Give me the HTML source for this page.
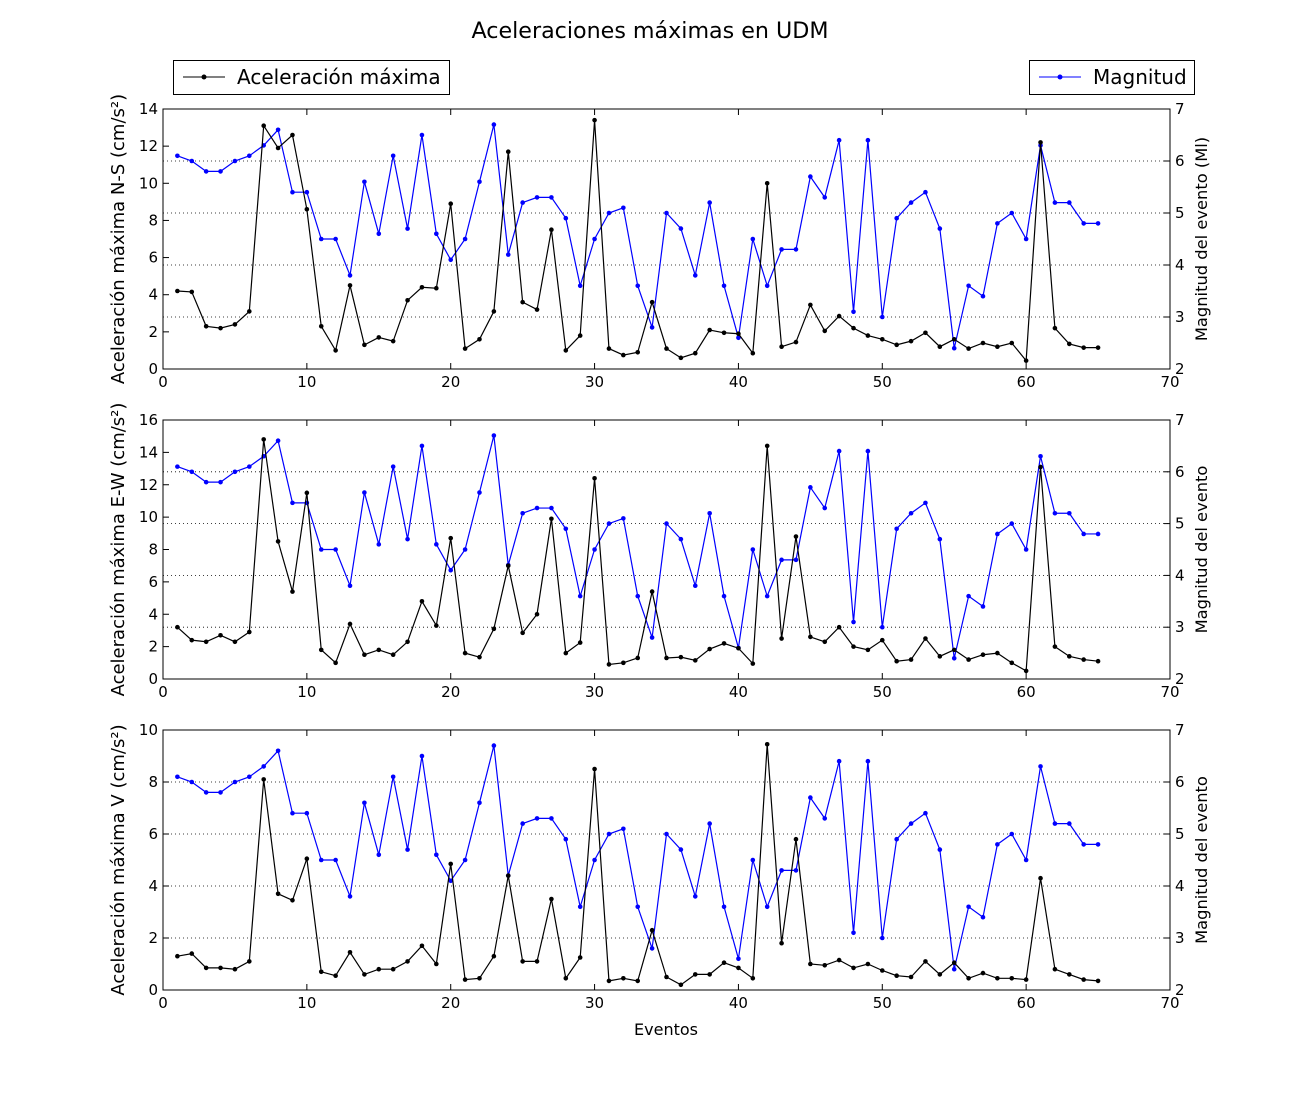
<!DOCTYPE html>
<html><head><meta charset="utf-8"><style>
body{margin:0;background:#fff}
svg{font-family:"DejaVu Sans","Liberation Sans",sans-serif}
</style></head><body>
<svg id="c" width="1300" height="1100" xmlns="http://www.w3.org/2000/svg">
<rect width="1300" height="1100" fill="#fff"/>
<text x="650" y="38" text-anchor="middle" font-size="22.2">Aceleraciones máximas en UDM</text>
<g>
<rect x="173.5" y="60.5" width="276" height="34" fill="#fff" stroke="#000"/>
<line x1="183" y1="77" x2="225" y2="77" stroke="#000"/><circle cx="204" cy="77" r="2.5" fill="#000"/>
<text x="237" y="84" font-size="20">Aceleración máxima</text></g>
<g>
<rect x="1029.5" y="60.5" width="165" height="34" fill="#fff" stroke="#000"/>
<line x1="1039" y1="77" x2="1081" y2="77" stroke="#00f"/><circle cx="1060" cy="77" r="2.5" fill="#00f"/>
<text x="1093" y="84" font-size="20">Magnitud</text></g>
<text x="666" y="1035" text-anchor="middle" font-size="16">Eventos</text>
</svg>
<script>
const xTicks=[0,10,20,30,40,50,60,70];
const magnitude=[6.1,6.0,5.8,5.8,6.0,6.1,6.3,6.6,5.4,5.4,4.5,4.5,3.8,5.6,4.6,6.1,4.7,6.5,4.6,4.1,4.5,5.6,6.7,4.2,5.2,5.3,5.3,4.9,3.6,4.5,5.0,5.1,3.6,2.8,5.0,4.7,3.8,5.2,3.6,2.6,4.5,3.6,4.3,4.3,5.7,5.3,6.4,3.1,6.4,3.0,4.9,5.2,5.4,4.7,2.4,3.6,3.4,4.8,5.0,4.5,6.3,5.2,5.2,4.8,4.8];
const accelNS=[4.2,4.15,2.3,2.2,2.4,3.1,13.1,11.9,12.6,8.6,2.3,1.0,4.5,1.3,1.7,1.5,3.7,4.4,4.35,8.9,1.1,1.6,3.1,11.7,3.6,3.2,7.5,1.0,1.8,13.4,1.1,0.75,0.9,3.6,1.1,0.6,0.85,2.1,1.95,1.9,0.85,10.0,1.2,1.45,3.45,2.05,2.85,2.2,1.8,1.6,1.3,1.5,1.95,1.2,1.6,1.1,1.4,1.2,1.4,0.45,12.2,2.2,1.35,1.15,1.15];
const accelEW=[3.2,2.4,2.3,2.7,2.3,2.9,14.8,8.5,5.4,11.5,1.8,1.0,3.4,1.5,1.8,1.5,2.3,4.8,3.3,8.7,1.6,1.35,3.1,7.0,2.85,4.0,9.9,1.6,2.25,12.4,0.9,1.0,1.3,5.4,1.3,1.35,1.15,1.85,2.2,1.9,0.95,14.4,2.5,8.8,2.6,2.3,3.2,2.0,1.8,2.4,1.1,1.2,2.5,1.4,1.8,1.2,1.5,1.6,1.0,0.5,13.1,2.0,1.4,1.2,1.1];
const accelV=[1.3,1.4,0.85,0.85,0.8,1.1,8.1,3.7,3.45,5.05,0.7,0.55,1.45,0.6,0.8,0.8,1.1,1.7,1.0,4.85,0.4,0.45,1.3,4.4,1.1,1.1,3.5,0.45,1.25,8.5,0.35,0.45,0.35,2.3,0.5,0.2,0.6,0.6,1.05,0.85,0.45,9.45,1.8,5.8,1.0,0.95,1.15,0.85,1.0,0.75,0.55,0.5,1.1,0.6,1.05,0.45,0.65,0.45,0.45,0.4,4.3,0.8,0.6,0.4,0.35];
const nsTicks=[0,2,4,6,8,10,12,14];
const ewTicks=[0,2,4,6,8,10,12,14,16];
const vTicks=[0,2,4,6,8,10];
const magTicks=[2,3,4,5,6,7];
const panels=[
 {name:'ns',top:109,bot:369,max:14,ticks:nsTicks,data:accelNS,yl:'Aceleración máxima N-S (cm/s²)',yr:'Magnitud del evento (Ml)'},
 {name:'ew',top:420,bot:679,max:16,ticks:ewTicks,data:accelEW,yl:'Aceleración máxima E-W (cm/s²)',yr:'Magnitud del evento'},
 {name:'v',top:730,bot:990,max:10,ticks:vTicks,data:accelV,yl:'Aceleración máxima V (cm/s²)',yr:'Magnitud del evento'}];
const NS='http://www.w3.org/2000/svg';
const svg=document.getElementById('c');
const L=163,R=1170;
function X(v){return L+(R-L)*v/70;}
function mk(t,a,p){const e=document.createElementNS(NS,t);for(const k in a)e.setAttribute(k,a[k]);(p||svg).appendChild(e);return e;}
panels.forEach(p=>{
 const g=mk('g',{});
 
 
 const Y=v=>p.bot-(p.bot-p.top)*v/p.max;
 const Ym=v=>p.bot-(p.bot-p.top)*(v-2)/5;
 magTicks.forEach(t=>{if(t>2&&t<7){const l=mk('line',{x1:L,x2:R,y1:Ym(t),y2:Ym(t),stroke:'#000','stroke-width':0.8,'stroke-dasharray':'1,3'},g);
  
  }});
 function series(data,yf,col,nm){
  const pts=data.map((v,i)=>X(i+1)+','+yf(v)).join(' ');
  const pl=mk('polyline',{points:pts,fill:'none',stroke:col,'stroke-width':1.2},g);
  
  
  data.forEach((v,i)=>{const c=mk('circle',{cx:X(i+1),cy:yf(v),r:2.3,fill:col},g);
   
   });
 }
 series(magnitude,Ym,'#00f','magnitude-'+p.name);
 series(p.data,Y,'#000','accel-'+p.name);
 const fr=mk('rect',{x:L,y:p.top,width:R-L,height:p.bot-p.top,fill:'none',stroke:'#000','stroke-width':1},g);
 
 
 xTicks.forEach(t=>{const x=X(t);
  mk('line',{x1:x,x2:x,y1:p.bot,y2:p.bot-6,stroke:'#000'},g);
  mk('line',{x1:x,x2:x,y1:p.top,y2:p.top+6,stroke:'#000'},g);
  const tx=mk('text',{x:x,y:p.bot+18,'text-anchor':'middle','font-size':15},g);tx.textContent=t;
  
  });
 p.ticks.forEach(t=>{const y=Y(t);
  mk('line',{x1:L,x2:L+6,y1:y,y2:y,stroke:'#000'},g);
  const tx=mk('text',{x:L-5,y:y+5,'text-anchor':'end','font-size':15},g);tx.textContent=t;
  
  });
 magTicks.forEach(t=>{const y=Ym(t);
  mk('line',{x1:R,x2:R-6,y1:y,y2:y,stroke:'#000'},g);
  const tx=mk('text',{x:R+5,y:y+5,'font-size':15},g);tx.textContent=t;
  
  });
 const cy=(p.top+p.bot)/2;
 const a=mk('text',{x:0,y:0,'text-anchor':'middle','font-size':18,transform:`translate(124,${cy}) rotate(-90)`},g);a.textContent=p.yl;
 
 
 const b=mk('text',{x:0,y:0,'text-anchor':'middle','font-size':16.3,transform:`translate(1207,${cy}) rotate(-90)`},g);b.textContent=p.yr;
 
 
});
</script>
</body></html>
